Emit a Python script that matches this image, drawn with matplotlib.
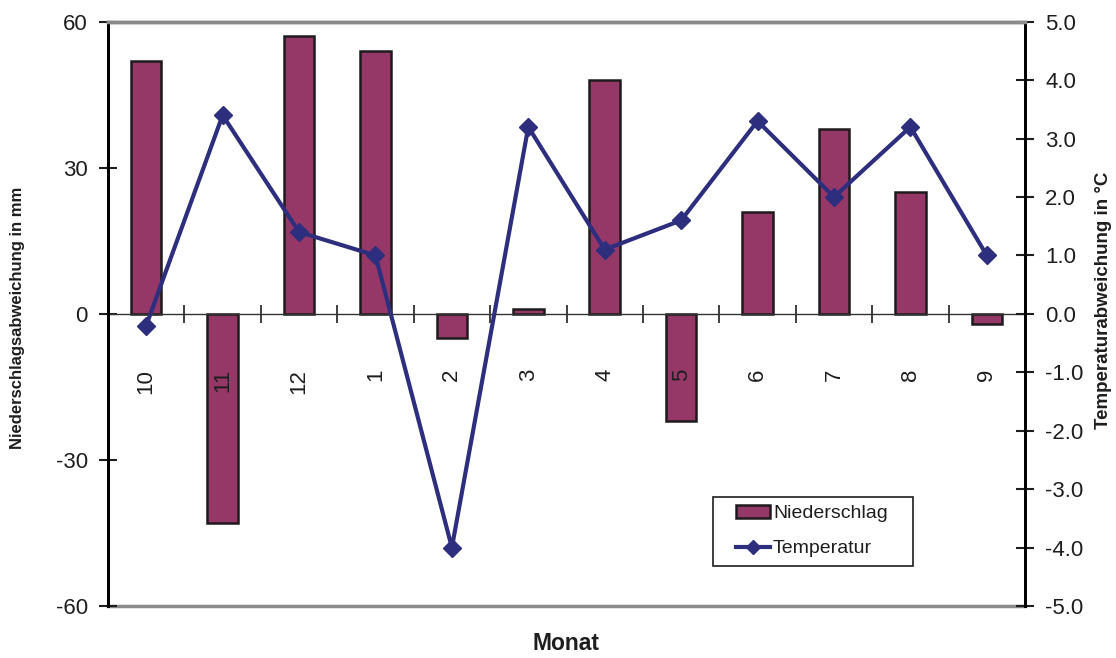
import numpy as np
import matplotlib.pyplot as plt
from matplotlib.patches import Rectangle

plt.rcParams['font.family'] = ['Liberation Sans', 'DejaVu Sans']

# monthly deviations, hydrological year Oct..Sep
months = ['10', '11', '12', '1', '2', '3', '4', '5', '6', '7', '8', '9']
niederschlag = [52, -43, 57, 54, -5, 1, 48, -22, 21, 38, 25, -2]      # mm
temperatur = [-0.2, 3.4, 1.4, 1.0, -4.0, 3.2, 1.1, 1.6, 3.3, 2.0, 3.2, 1.0]  # °C

bar_col = '#953868'
line_col = '#2E2E7E'
grey = '#8a8a8a'
ink = '#1e1e1e'

W, H = 1116, 658
fig = plt.figure(figsize=(W / 100, H / 100), dpi=100)
ax = fig.add_axes([108 / W, 1 - 606 / H, 917 / W, 584.3 / H])
ax2 = ax.twinx()

x = np.arange(len(months))
bars = ax.bar(x, niederschlag, width=0.4, color=bar_col, edgecolor='#1e1a1c',
              linewidth=1.8, zorder=2, label='Niederschlag')
line, = ax2.plot(x, temperatur, color=line_col, lw=3, marker='D', ms=9,
                 mfc=line_col, mec=line_col, label='Temperatur')

ax.set_xlim(-0.5, len(months) - 0.5)
ax.set_ylim(-60, 60)
ax2.set_ylim(-5, 5)
ax.set_yticks([-60, -30, 0, 30, 60])
ax.set_yticklabels(['-60', '-30', '0', '30', '60'])
ax2.set_yticks(np.arange(-5, 6, 1))
ax2.set_yticklabels([f'{v:.1f}' for v in np.arange(-5, 6, 1)])

# x axis runs along zero, tick marks sit between the months
ax.spines['bottom'].set_position(('data', 0))
ax.spines['bottom'].set_color('#333333')
ax.spines['bottom'].set_linewidth(1.0)
ax.set_xticks(x[:-1] + 0.5)
ax.set_xticklabels([])
ax.tick_params(axis='x', direction='inout', length=13, width=1.2, color=ink)
ax.axhline(-60, color=grey, lw=2.5, clip_on=False, zorder=1)
for a in (ax, ax2):
    a.spines['top'].set_color(grey)
    a.spines['top'].set_linewidth(2.5)
    a.spines['left'].set_linewidth(2)
    a.spines['right'].set_linewidth(2)
ax2.spines['bottom'].set_visible(False)

for a in (ax, ax2):
    a.tick_params(axis='y', direction='inout', length=13, width=1.5, pad=8,
                  labelsize=16, color=ink, labelcolor=ink)

for xi, m in zip(x, months):
    ax.annotate(m, xy=(xi, 0), xytext=(0, -55), textcoords='offset pixels',
                rotation=90, ha='center', va='top', fontsize=16, color=ink,
                zorder=5)

fig.text(18 / W, 1 - 318 / H, 'Niederschlagsabweichung in mm', rotation=90,
         ha='center', va='center', fontsize=12, fontweight='bold', color=ink)
fig.text(1103 / W, 1 - 300 / H, 'Temperaturabweichung in °C', rotation=90,
         ha='center', va='center', fontsize=13.5, fontweight='bold', color=ink)
fig.text(566 / W, 1 - 643 / H, 'Monat', ha='center', va='center',
         fontsize=16.5, fontweight='bold', color=ink)

# legend: entries without frame, box drawn separately
leg = ax2.legend([bars, line], ['Niederschlag', 'Temperatur'], loc='center left',
                 bbox_to_anchor=(736 / W, 1 - 531 / H),
                 bbox_transform=fig.transFigure, fontsize=14, frameon=False,
                 borderpad=0, handlelength=1.75, handletextpad=0.15,
                 labelspacing=0.9, borderaxespad=0, markerscale=0.75)
for t in leg.get_texts():
    t.set_color(ink)
fig.patches.append(Rectangle((712.7 / W, 1 - 565.7 / H), 200.6 / W, 69 / H,
                             transform=fig.transFigure, fill=False,
                             edgecolor=ink, lw=1.2, zorder=3))

fig.savefig('out.png', dpi=100)
